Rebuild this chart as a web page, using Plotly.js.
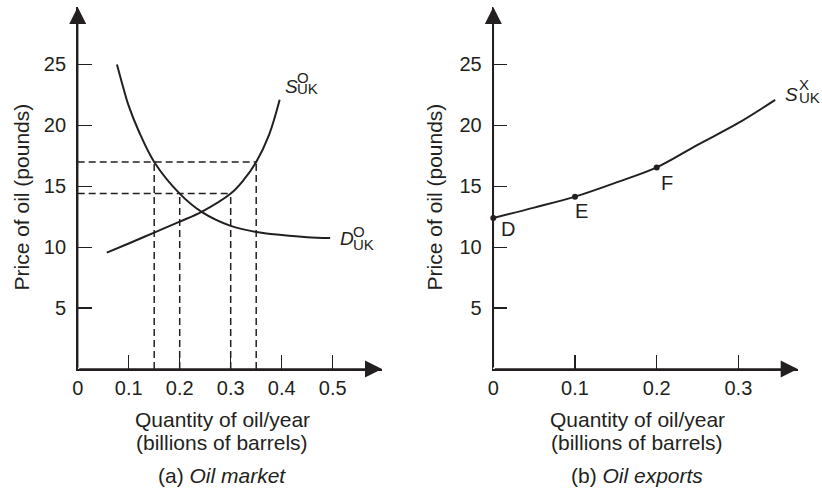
<!DOCTYPE html>
<html>
<head>
<meta charset="utf-8">
<script src="https://cdn.plot.ly/plotly-3.0.1.min.js"></script>
<style>html,body{margin:0;padding:0;background:#fff;}#chart{width:822px;height:491px;}</style>
</head>
<body>
<div id="chart"></div>
<script>
// ---- data ----
// (a) Oil market: UK demand and supply of oil
const demandQ = [0.077, 0.09, 0.1, 0.12, 0.15, 0.2, 0.243, 0.3, 0.35, 0.4, 0.45, 0.495];
const demandP = [25.0, 23.0, 21.6, 19.5, 17.0, 14.4, 12.9, 11.75, 11.25, 11.0, 10.82, 10.75];
const supplyQ = [0.057, 0.1, 0.15, 0.2, 0.243, 0.3, 0.325, 0.35, 0.375, 0.396];
const supplyP = [9.55, 10.3, 11.2, 12.1, 12.9, 14.4, 15.5, 17.0, 19.2, 22.1];
// dashed guide lines: price levels and the quantities read at them
const guideP = [17.0, 14.4];
const guideQlow = [0.15, 0.2];   // demand side
const guideQhigh = [0.35, 0.3];  // supply side
// (b) Oil exports: UK export supply
const exportQ = [0, 0.05, 0.1, 0.15, 0.2, 0.25, 0.3, 0.345];
const exportP = [12.4, 13.25, 14.15, 15.3, 16.55, 18.4, 20.2, 22.1];
const pointNames = ['D', 'E', 'F'];
const pointIdx = [0, 2, 4];
// ticks
const xTicksA = [0, 0.1, 0.2, 0.3, 0.4, 0.5];
const xTickTextA = ['0', '0.1', '0.2', '0.3', '0.4', '0.5'];
const xTicksB = [0, 0.1, 0.2, 0.3];
const xTickTextB = ['0', '0.1', '0.2', '0.3'];
const yTicks = [5, 10, 15, 20, 25];
const yTickText = ['5', '10', '15', '20', '25'];

// ---- build traces ----
const INK = '#231f20';
const FONT = 'Liberation Sans, Arial, Helvetica, sans-serif';

function guideTrace() {
  const x = [], y = [];
  guideP.forEach((p, i) => {
    const qs = [guideQlow[i], guideQhigh[i]];
    x.push(0, Math.max(...qs), null); y.push(p, p, null);
    qs.forEach(q => { x.push(q, q, null); y.push(0, p, null); });
  });
  return {x, y, xaxis: 'x', yaxis: 'y', mode: 'lines', hoverinfo: 'skip',
          line: {color: INK, width: 1.5, dash: '7px,4px'}};
}

const traces = [
  guideTrace(),
  {x: demandQ, y: demandP, xaxis: 'x', yaxis: 'y', mode: 'lines',
   line: {color: INK, width: 2, shape: 'spline', smoothing: 1}},
  {x: supplyQ, y: supplyP, xaxis: 'x', yaxis: 'y', mode: 'lines',
   line: {color: INK, width: 2, shape: 'spline', smoothing: 1}},
  {x: exportQ, y: exportP, xaxis: 'x2', yaxis: 'y2', mode: 'lines',
   line: {color: INK, width: 2, shape: 'spline', smoothing: 1}},
  {x: pointIdx.map(i => exportQ[i]), y: pointIdx.map(i => exportP[i]),
   xaxis: 'x2', yaxis: 'y2', mode: 'markers', cliponaxis: false,
   marker: {color: INK, size: 6}}
];

// ---- axes ----
const X_A = [77.7, 382], X_B = [493.3, 797.7], Y_PX = [369, 7];
const W = 822, H = 491;
const yDomain = [1 - Y_PX[0] / H, 1 - Y_PX[1] / H];
const yRange = [0, 29.72];

function xAxis(dom, range, vals, text, anchor) {
  return {domain: [dom[0] / W, dom[1] / W], range, anchor, tickvals: vals, ticktext: text,
          ticks: 'inside', ticklen: 14, tickwidth: 1.4, tickcolor: INK,
          showline: true, linewidth: 1.6, linecolor: INK, showgrid: false, zeroline: false,
          tickfont: {family: FONT, size: 20, color: INK}, ticklabelstandoff: 0, fixedrange: true};
}
function yAxis(anchor) {
  return {domain: yDomain, range: yRange, anchor, tickvals: yTicks, ticktext: yTickText,
          ticks: 'inside', ticklen: 14, tickwidth: 1.4, tickcolor: INK,
          showline: true, linewidth: 1.6, linecolor: INK, showgrid: false, zeroline: false,
          tickfont: {family: FONT, size: 20, color: INK}, ticklabelstandoff: 6, fixedrange: true};
}

// ---- annotations ----
const ann = [];
function axisArrow(xr, yr, x, y) {
  ann.push({xref: xr, yref: yr, axref: xr, ayref: yr, x, y, ax: 0, ay: 0, text: '',
            showarrow: true, arrowhead: 2, arrowsize: 2.27, arrowwidth: 1.5, arrowcolor: INK});
}
axisArrow('x', 'y', 0, yRange[1]);
axisArrow('x', 'y', (X_A[1] - X_A[0]) / 510, 0);
axisArrow('x2', 'y2', 0, yRange[1]);
axisArrow('x2', 'y2', (X_B[1] - X_B[0]) / 817, 0);

function stacked(xr, yr, x, y, dx, dy, base, sup, sub, supDy, subDy, subDx) {
  const common = {xref: xr, yref: yr, x, y, showarrow: false, xanchor: 'left', yanchor: 'middle'};
  ann.push(Object.assign({}, common, {text: '<i>' + base + '</i>', xshift: dx, yshift: dy,
    font: {family: FONT, size: 19, color: INK}}));
  ann.push(Object.assign({}, common, {text: sup, xshift: dx + subDx, yshift: dy + supDy,
    font: {family: FONT, size: 15, color: INK}}));
  ann.push(Object.assign({}, common, {text: sub, xshift: dx + subDx, yshift: dy + subDy,
    font: {family: FONT, size: 15, color: INK}}));
}
const sLast = supplyQ.length - 1, dLast = demandQ.length - 1, xLast = exportQ.length - 1;
stacked('x', 'y', supplyQ[sLast], supplyP[sLast], 3, 13.3, 'S', 'O', 'UK', 9.5, -2.1, 12.8);
stacked('x', 'y', demandQ[dLast], demandP[dLast], 8, 0, 'D', 'O', 'UK', 6.7, -6.2, 12.7);
stacked('x2', 'y2', exportQ[xLast], exportP[xLast], 8, 5, 'S', 'X', 'UK', 10, -2.5, 13.7);

const labelShift = [[14.7, -11.4], [6, -14.5], [10.3, -15.9]];
pointNames.forEach((n, k) => {
  ann.push({xref: 'x2', yref: 'y2', x: exportQ[pointIdx[k]], y: exportP[pointIdx[k]],
            xshift: labelShift[k][0], yshift: labelShift[k][1], text: n, showarrow: false,
            xanchor: 'center', yanchor: 'middle', font: {family: FONT, size: 20, color: INK}});
});

function paperText(text, px, py, size, angle) {
  ann.push({xref: 'paper', yref: 'paper', x: px / W, y: 1 - py / H, text, showarrow: false,
            xanchor: 'center', yanchor: 'middle', textangle: angle || 0,
            font: {family: FONT, size, color: INK}});
}
paperText('Price of oil (pounds)', 20.5, 197, 21, -90);
paperText('Price of oil (pounds)', 434.4, 197, 21, -90);
paperText('Quantity of oil/year', 222, 419.7, 21);
paperText('(billions of barrels)', 222, 442.7, 21);
paperText('(a) <i>Oil market</i>', 222, 475.5, 21);
paperText('Quantity of oil/year', 637, 419.7, 21);
paperText('(billions of barrels)', 637, 442.7, 21);
paperText('(b) <i>Oil exports</i>', 637, 475.5, 21);

const layout = {
  width: W, height: H, margin: {l: 0, r: 0, t: 0, b: 0},
  paper_bgcolor: '#fff', plot_bgcolor: '#fff', showlegend: false,
  xaxis: xAxis(X_A, [0, (X_A[1] - X_A[0]) / 510], xTicksA, xTickTextA, 'y'),
  yaxis: yAxis('x'),
  xaxis2: xAxis(X_B, [0, (X_B[1] - X_B[0]) / 817], xTicksB, xTickTextB, 'y2'),
  yaxis2: yAxis('x2'),
  annotations: ann
};

Plotly.newPlot('chart', traces, layout, {staticPlot: true, displayModeBar: false});
</script>
</body>
</html>
